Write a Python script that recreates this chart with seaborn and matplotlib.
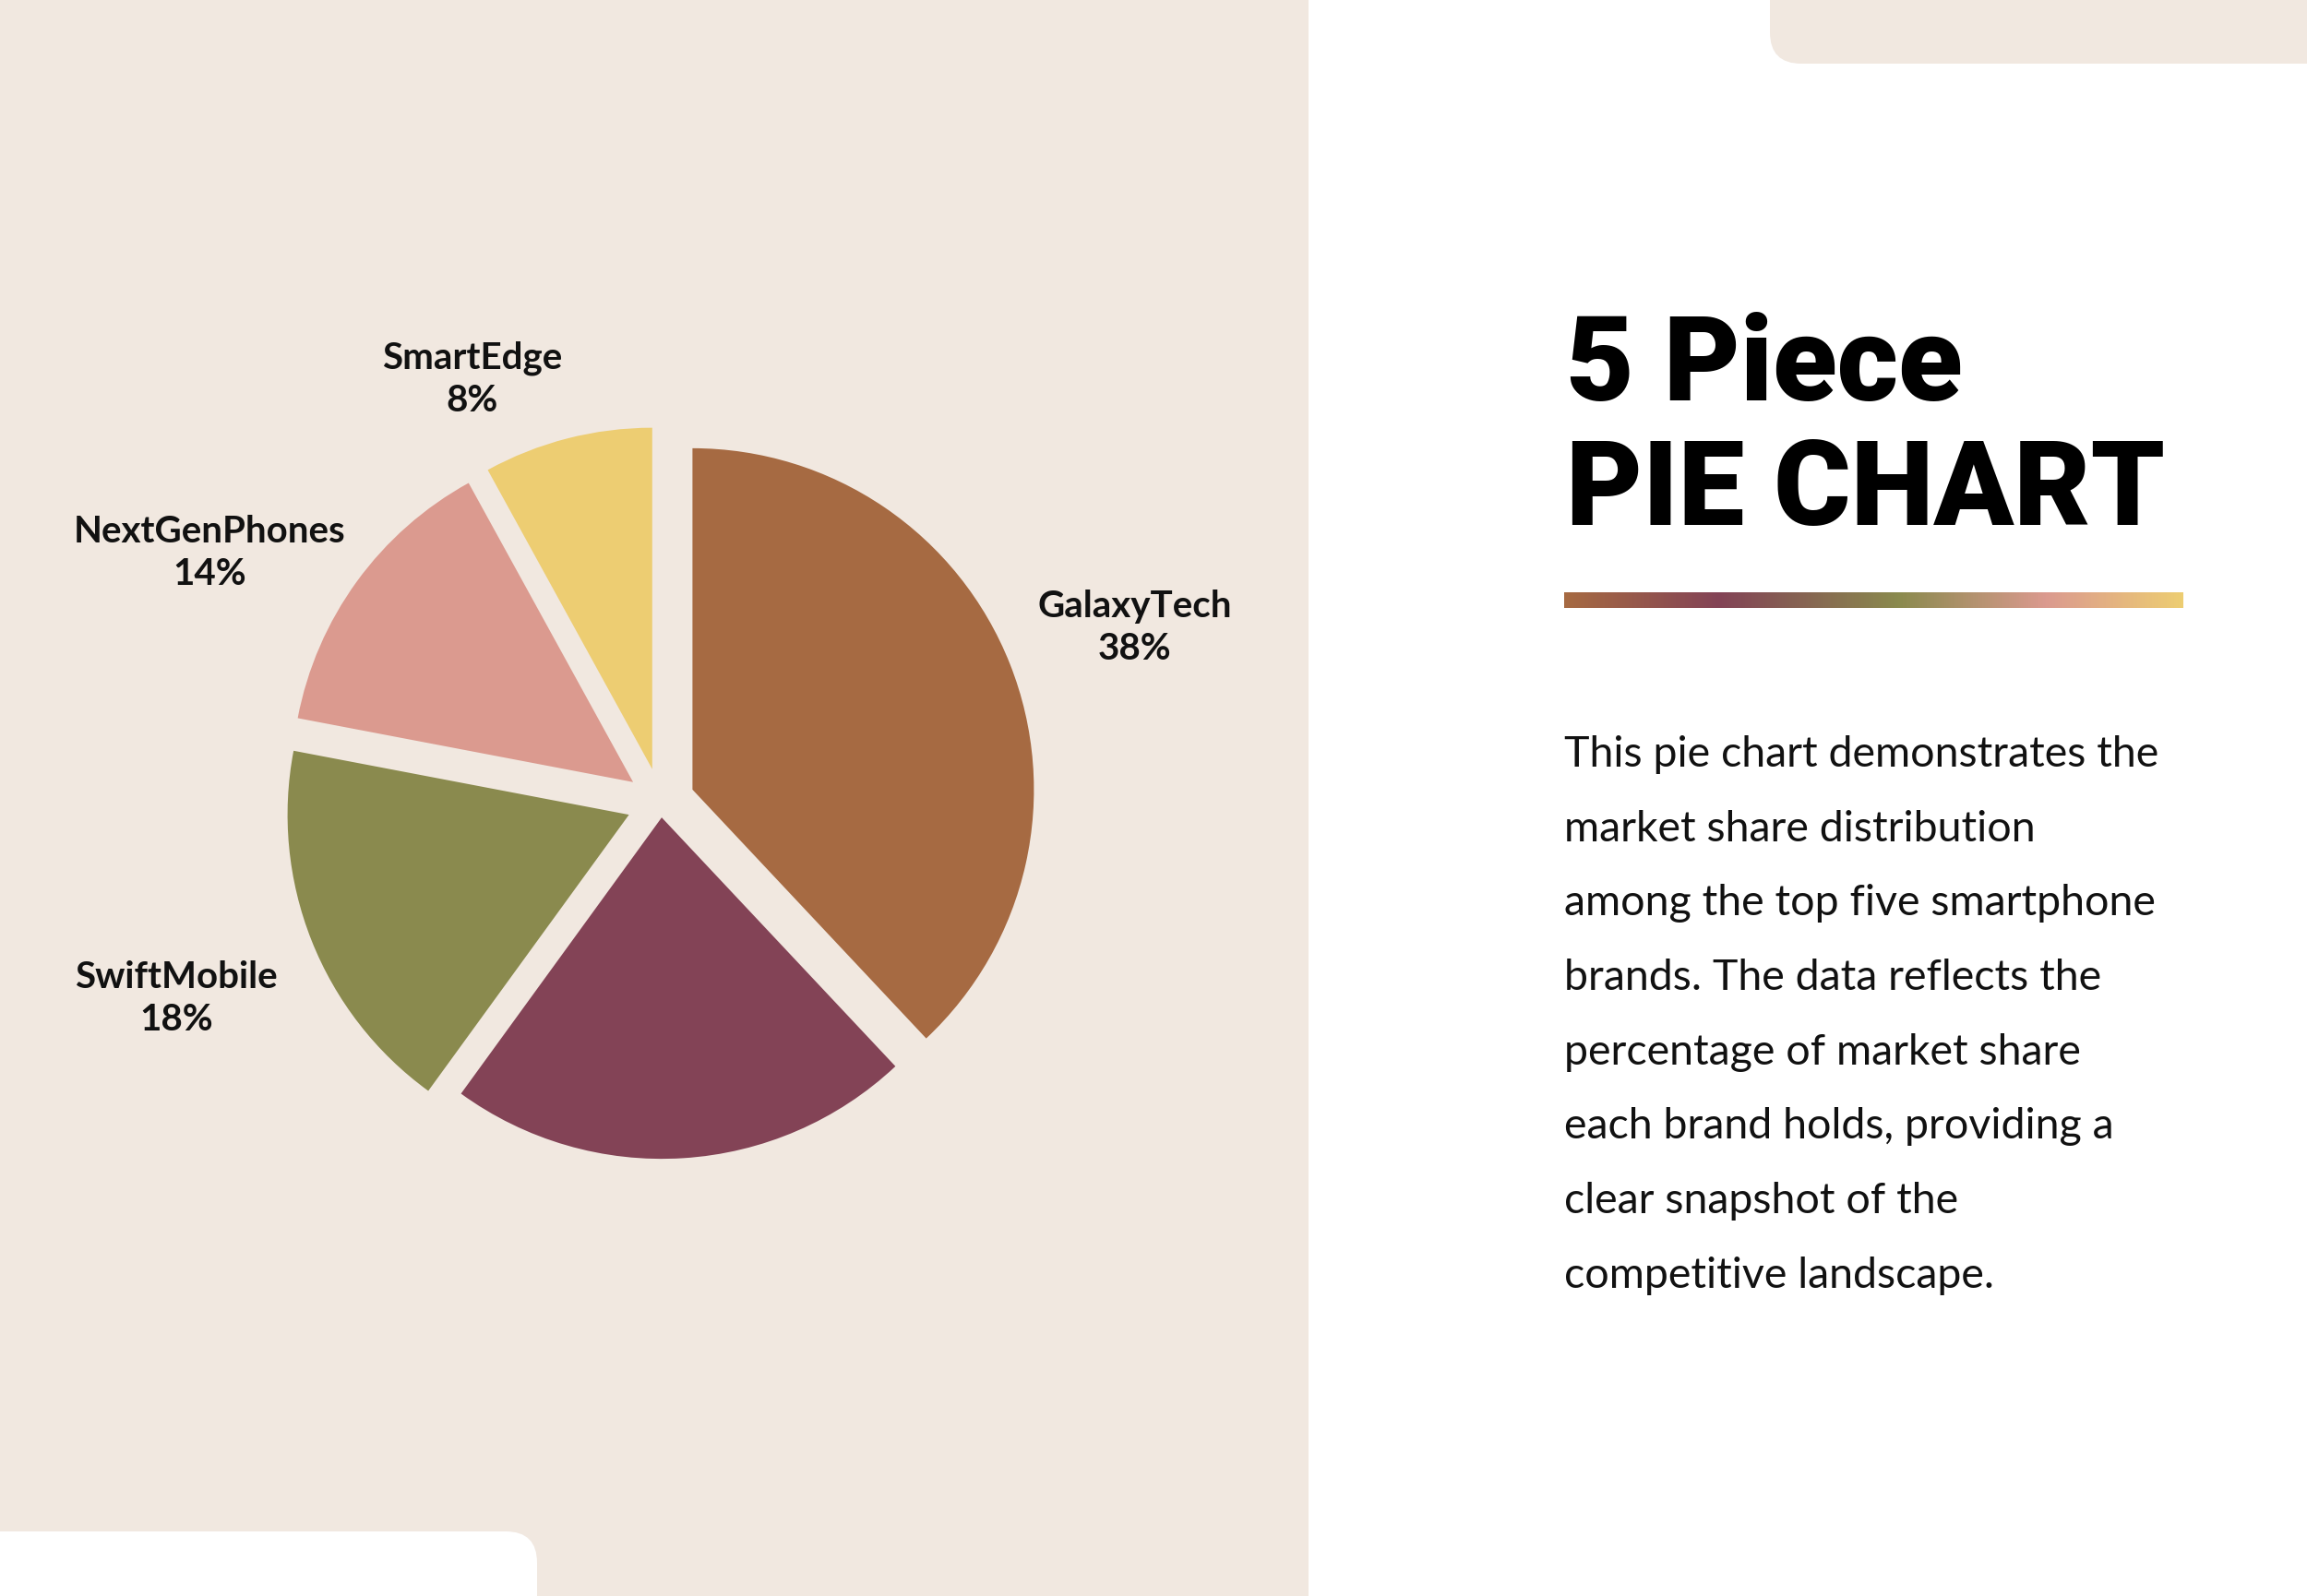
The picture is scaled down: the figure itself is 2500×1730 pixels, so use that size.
import numpy as np
import matplotlib.pyplot as plt
import seaborn as sns
from matplotlib.patches import FancyBboxPatch, Rectangle
from matplotlib.colors import LinearSegmentedColormap

# chart data
brands = ['GalaxyTech', '', 'SwiftMobile', 'NextGenPhones', 'SmartEdge']
shares = [38, 22, 18, 14, 8]
slice_colors = ['#A66A42', '#834356', '#8A8A4E', '#DB9A8F', '#EDCD72']

# slice offsets and label placement (distance in radii, angle nudge in degrees)
explode = [0.1, 0.045, 0.1, 0.1, 0.1]
label_dist = [1.48, 1.4, 1.53, 1.51, 1.36]
label_nudge = [-1.3, 0.0, 0.4, 7.0, 9.6]

gradient_stops = [0.0, 0.25, 0.54, 0.78, 1.0]
title_lines = ['5 Piece', 'PIE CHART']
description_lines = [
    'This pie chart demonstrates the',
    'market share distribution',
    'among the top five smartphone',
    'brands. The data reflects the',
    'percentage of market share',
    'each brand holds, providing a',
    'clear snapshot of the',
    'competitive landscape.',
]

BEIGE = '#F1E8E0'
W, H = 2500, 1731

sns.set_theme(style='white')
plt.rcParams['font.family'] = ['Lato', 'DejaVu Sans']

fig = plt.figure(figsize=(W / 100, H / 100), dpi=100)
fig.patch.set_facecolor('white')

# background layer in pixel coordinates (y down)
bg = fig.add_axes([0, 0, 1, 1])
bg.set_xlim(0, W)
bg.set_ylim(H, 0)
bg.axis('off')

bg.add_patch(Rectangle((0, 0), 1418, H, color=BEIGE, lw=0))
bg.add_patch(FancyBboxPatch((-60, 1661), 642, 200, boxstyle='round,pad=0,rounding_size=34',
                            color='white', lw=0))
bg.add_patch(FancyBboxPatch((1918, -100), 700, 170, boxstyle='round,pad=0,rounding_size=34',
                            color=BEIGE, lw=0))

# title
for txt, y in zip(title_lines, [434, 569]):
    bg.text(1697, y, txt, fontsize=92, fontweight='black', family=['Roboto', 'DejaVu Sans'],
            color='black', va='baseline', ha='left')

# gradient bar
cmap = LinearSegmentedColormap.from_list('bar', list(zip(gradient_stops, slice_colors)))
grad = np.linspace(0, 1, 512).reshape(1, -1)
bg.imshow(grad, cmap=cmap, aspect='auto', extent=(1695, 2366, 660, 643), zorder=2)
bg.set_xlim(0, W)
bg.set_ylim(H, 0)

# description
for i, line in enumerate(description_lines):
    bg.text(1695, 831 + i * 80.7, line, fontsize=33.5, color='#111111', va='baseline', ha='left')

# pie chart
ax = fig.add_axes([253.5 / W, 398 / H, 925 / W, 925 / H])
palette = sns.color_palette(slice_colors)
wedges, texts = ax.pie(shares, colors=palette, startangle=90, counterclock=False,
                       explode=explode, radius=1,
                       wedgeprops=dict(linewidth=0))
for w, name, pct, d, nudge in zip(wedges, brands, shares, label_dist, label_nudge):
    if not name:
        continue
    mid = np.deg2rad((w.theta1 + w.theta2) / 2 + nudge)
    ax.text(d * np.cos(mid), d * np.sin(mid), f'{name}\n{pct}%', ha='center', va='center',
            fontsize=29, fontweight='bold', color='#111111', linespacing=1.3)
ax.set_xlim(-1.25, 1.25)
ax.set_ylim(-1.25, 1.25)

fig.savefig('out.png', dpi=100, facecolor='white')
